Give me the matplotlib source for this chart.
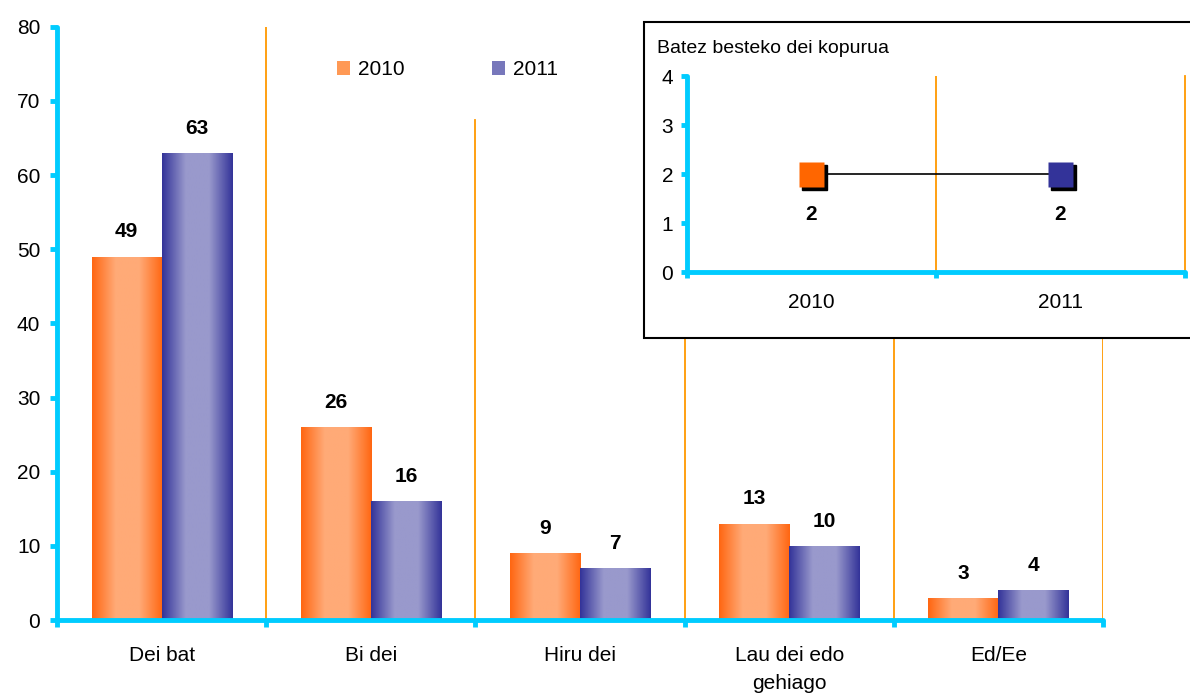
import matplotlib
matplotlib.use("Agg")
import matplotlib.pyplot as plt
import numpy as np
from matplotlib.colors import LinearSegmentedColormap
from matplotlib.patches import Patch, Rectangle
from matplotlib import transforms

plt.rcParams['font.family'] = ['Liberation Sans', 'DejaVu Sans']

categories = ["Dei bat", "Bi dei", "Hiru dei", "Lau dei edo\ngehiago", "Ed/Ee"]
v2010 = [49, 26, 9, 13, 3]
v2011 = [63, 16, 7, 10, 4]
years = ["2010", "2011"]
avg_calls = [2, 2]

cyan = "#00CCFF"
grid_orange = "#FF9900"
orange_cm = LinearSegmentedColormap.from_list("o", ["#FF6611", "#FFAA77", "#FFAA77", "#FF6611"])
blue_cm = LinearSegmentedColormap.from_list("b", ["#333399", "#9999CC", "#9999CC", "#333399"])
grad = np.linspace(0, 1, 256).reshape(1, -1)

fig = plt.figure(figsize=(11.9, 6.93), dpi=100)
ax = fig.add_axes([0.0479, 0.1053, 0.879, 0.856])

x = np.arange(len(categories))
w = 0.335
b1 = ax.bar(x - w / 2, v2010, w, color="none", zorder=2)
b2 = ax.bar(x + w / 2, v2011, w, color="none", zorder=2)
for bars, cm in ((b1, orange_cm), (b2, blue_cm)):
    for bar in bars:
        x0, y0 = bar.get_x(), bar.get_y()
        im = ax.imshow(grad, extent=[x0, x0 + bar.get_width(), y0, y0 + bar.get_height()],
                       cmap=cm, aspect="auto", zorder=2, interpolation="bilinear")
        im.set_clip_path(bar)
        ax.annotate(f"{bar.get_height():.0f}", (x0 + bar.get_width() / 2, bar.get_height()),
                    xytext=(0, 11), textcoords="offset points", ha="center", va="bottom",
                    fontsize=15, fontweight="bold")

ax.set_xlim(-0.5, len(categories) - 0.5)
ax.set_ylim(0, 80)
ax.set_aspect("auto")

# orange separators
bounds = np.arange(len(categories)) + 0.5
for bx in bounds:
    top = 67.5 if bx == 1.5 else 80
    ax.plot([bx, bx], [0, top], color=grid_orange, lw=1.3, zorder=1)

for s in ("top", "right"):
    ax.spines[s].set_visible(False)
for s in ("left", "bottom"):
    ax.spines[s].set_color(cyan)
    ax.spines[s].set_linewidth(3.5)
    ax.spines[s].set_capstyle("round")
ax.set_yticks(np.arange(0, 81, 10))
ax.tick_params(axis="y", colors=cyan, labelcolor="black", length=5, width=3.5,
               labelsize=15, pad=7)
ax.set_xticks(np.concatenate([[-0.5], bounds]))
ax.set_xticklabels([])
ax.tick_params(axis="x", which="major", colors=cyan, length=5, width=3.5)
ax.set_xticks(x, minor=True)
ax.set_xticklabels(categories, minor=True, fontsize=15, linespacing=1.6, va="top")
ax.tick_params(axis="x", which="minor", length=0, pad=19)

legend_handles = [Patch(facecolor="#FF9955", edgecolor="none"),
                  Patch(facecolor="#7777BB", edgecolor="none")]
ax.legend(legend_handles, years, loc="upper left", bbox_to_anchor=(0.25, 0.975), ncol=2,
          frameon=False, fontsize=15, handlelength=0.6, handleheight=0.6,
          handletextpad=0.4, columnspacing=4.2)

# inset box
box = Rectangle((0.5412, 0.5123), 0.47, 0.456, transform=fig.transFigure,
                facecolor="white", edgecolor="black", lw=1.5, zorder=1)
fig.patches.append(box)
fig.text(0.552, 0.930, "Batez besteko dei kopurua", fontsize=14, va="center", ha="left", zorder=3)

ax2 = fig.add_axes([0.5773, 0.6075, 0.4185, 0.2828], zorder=2)
ax2.patch.set_alpha(0)
xi = np.arange(len(years))
ax2.plot(xi, avg_calls, color="black", lw=1.2, zorder=2)
shadow = transforms.offset_copy(ax2.transData, fig=fig, x=3, y=-3, units="dots")
for i, (xv, yv) in enumerate(zip(xi, avg_calls)):
    ax2.plot(xv, yv, marker="s", ms=18, color="black", transform=shadow, zorder=3)
    ax2.plot(xv, yv, marker="s", ms=18, color=["#FF6600", "#333399"][i], mec="none", zorder=4)
    ax2.annotate(f"{yv}", (xv, yv), xytext=(0, -22), textcoords="offset points",
                 ha="center", va="top", fontsize=15, fontweight="bold")
ax2.set_xlim(-0.5, 1.5)
ax2.set_ylim(0, 4)
ax2.plot([0.5, 0.5], [0, 4], color=grid_orange, lw=1.3, zorder=1)
ax2.plot([1.5, 1.5], [0, 4], color=grid_orange, lw=1.3, zorder=1, clip_on=False)
for s in ("top", "right"):
    ax2.spines[s].set_visible(False)
for s in ("left", "bottom"):
    ax2.spines[s].set_color(cyan)
    ax2.spines[s].set_linewidth(3.5)
    ax2.spines[s].set_capstyle("round")
ax2.set_yticks(range(5))
ax2.tick_params(axis="y", colors=cyan, labelcolor="black", length=4, width=3.5,
                labelsize=15, pad=6)
ax2.set_xticks([-0.5, 0.5, 1.5])
ax2.set_xticklabels([])
ax2.tick_params(axis="x", which="major", colors=cyan, length=4, width=3.5)
ax2.set_xticks(xi, minor=True)
ax2.set_xticklabels(years, minor=True, fontsize=15)
ax2.tick_params(axis="x", which="minor", length=0, pad=15)

fig.savefig("out.png", dpi=100)
